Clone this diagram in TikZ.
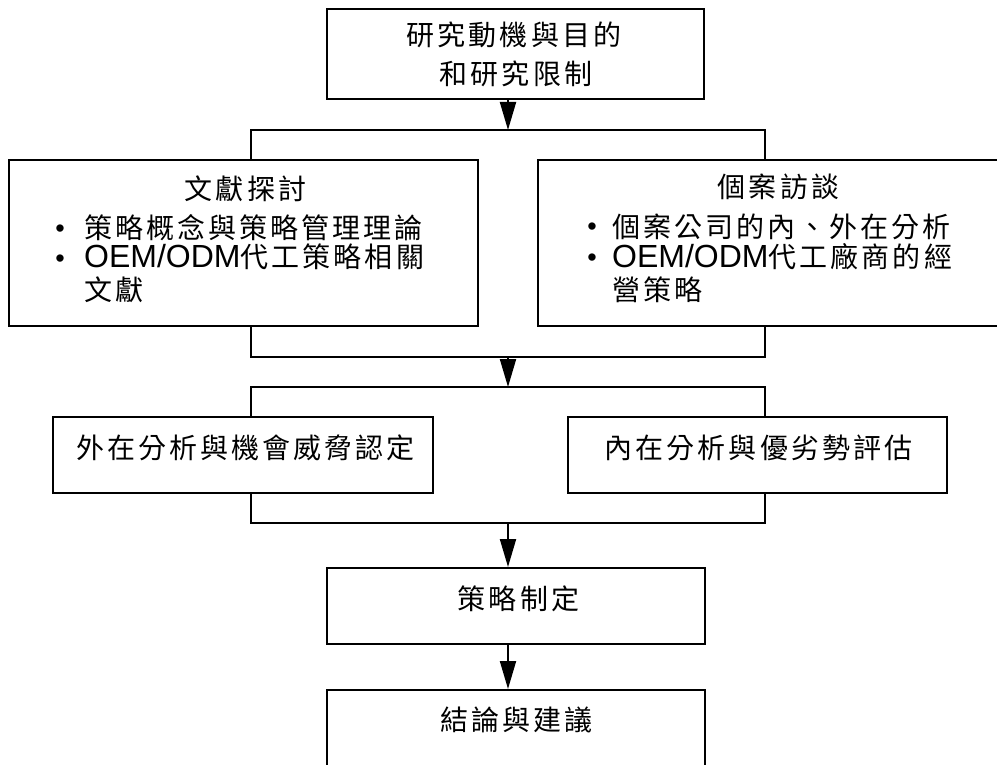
\documentclass[tikz,border=0pt]{standalone}
\usepackage{fontspec}
\setmainfont{Liberation Sans}
\newfontfamily\cjk{Noto Sans CJK TC}[LetterSpace=11]
\newfontfamily\lat{Liberation Sans}
\newcommand\latbig{\fontsize{32}{36}\selectfont\lat}
\usetikzlibrary{arrows.meta}
\tikzset{
  box/.style={draw, line width=2pt, rectangle, inner sep=0pt},
  txt/.style={font=\fontsize{28}{32}\selectfont\cjk, inner sep=0pt, anchor=base},
  ltxt/.style={font=\fontsize{28}{32}\selectfont\cjk, inner sep=0pt, anchor=base west},
  bul/.style={font=\fontsize{27}{32}\selectfont, inner sep=0pt, anchor=base},
  conn/.style={line width=2pt},
  arr/.style={line width=2pt, -{Triangle[length=28pt,width=16pt]}}
}
\begin{document}
\begin{tikzpicture}[x=1pt,y=-1pt]
\useasboundingbox (0,0) rectangle (997,765);
% boxes
\node[box, minimum width=377pt, minimum height=90pt] (top) at (515.5,54) {};
\node[box, minimum width=469pt, minimum height=166pt] (L) at (243.5,243) {};
\node[box, minimum width=469pt, minimum height=166pt] (R) at (772.5,243) {};
\node[box, minimum width=380pt, minimum height=76pt] (B3) at (243,455) {};
\node[box, minimum width=379pt, minimum height=76pt] (B4) at (757.5,455) {};
\node[box, minimum width=378pt, minimum height=76pt] (B5) at (516,606) {};
\node[box, minimum width=378pt, minimum height=76pt] (B6) at (516,728) {};
% texts
\node[txt] (t1) at (514,46) {研究動機與目的};
\node[txt] (t2) at (516,85) {和研究限制};
\node[txt] (lt) at (245.5,200) {文獻探討};
\node[bul] (lb1) at (60,237) {•};
\node[ltxt] (l1) at (84,238) {策略概念與策略管理理論};
\node[bul] (lb2) at (60,267) {•};
\node[ltxt] (l2) at (84,268) {{\latbig OEM/ODM}代工策略相關};
\node[ltxt] (l3) at (84,300) {文獻};
\node[txt] (rt) at (778.5,198) {個案訪談};
\node[bul] (rb1) at (592,236) {•};
\node[ltxt] (r1) at (612,237) {個案公司的內、外在分析};
\node[bul] (rb2) at (592,266) {•};
\node[ltxt] (r2) at (612,267) {{\latbig OEM/ODM}代工廠商的經};
\node[ltxt] (r3) at (612,300) {營策略};
\node[txt] (t3) at (245.5,458) {外在分析與機會威脅認定};
\node[txt] (t4) at (758.5,458) {內在分析與優劣勢評估};
\node[txt] (t5) at (518.5,609) {策略制定};
\node[txt] (t6) at (516.5,730) {結論與建議};
% junction coordinates
\coordinate (a1) at (508,130);
\coordinate (a1l) at (251,130);
\coordinate (a1r) at (765,130);
\coordinate (a2l) at (251,357);
\coordinate (a2r) at (765,357);
\coordinate (a2) at (508,357);
\coordinate (a3) at (508,387);
\coordinate (a3l) at (251,387);
\coordinate (a3r) at (765,387);
\coordinate (a4l) at (251,523);
\coordinate (a4r) at (765,523);
\coordinate (a4) at (508,523);
% connectors
\draw[arr] (top.south -| a1) -- (a1);
\draw[conn] (a1l |- L.north) -- (a1l) -- (a1r) -- (a1r |- R.north);
\draw[conn] (a2l |- L.south) -- (a2l) -- (a2r) -- (a2r |- R.south);
\draw[arr] (a2) -- (a3);
\draw[conn] (a3l |- B3.north) -- (a3l) -- (a3r) -- (a3r |- B4.north);
\draw[conn] (a4l |- B3.south) -- (a4l) -- (a4r) -- (a4r |- B4.south);
\draw[arr] (a4) -- (a4 |- B5.north);
\draw[arr] (a4 |- B5.south) -- (a4 |- B6.north);
\end{tikzpicture}
\end{document}
